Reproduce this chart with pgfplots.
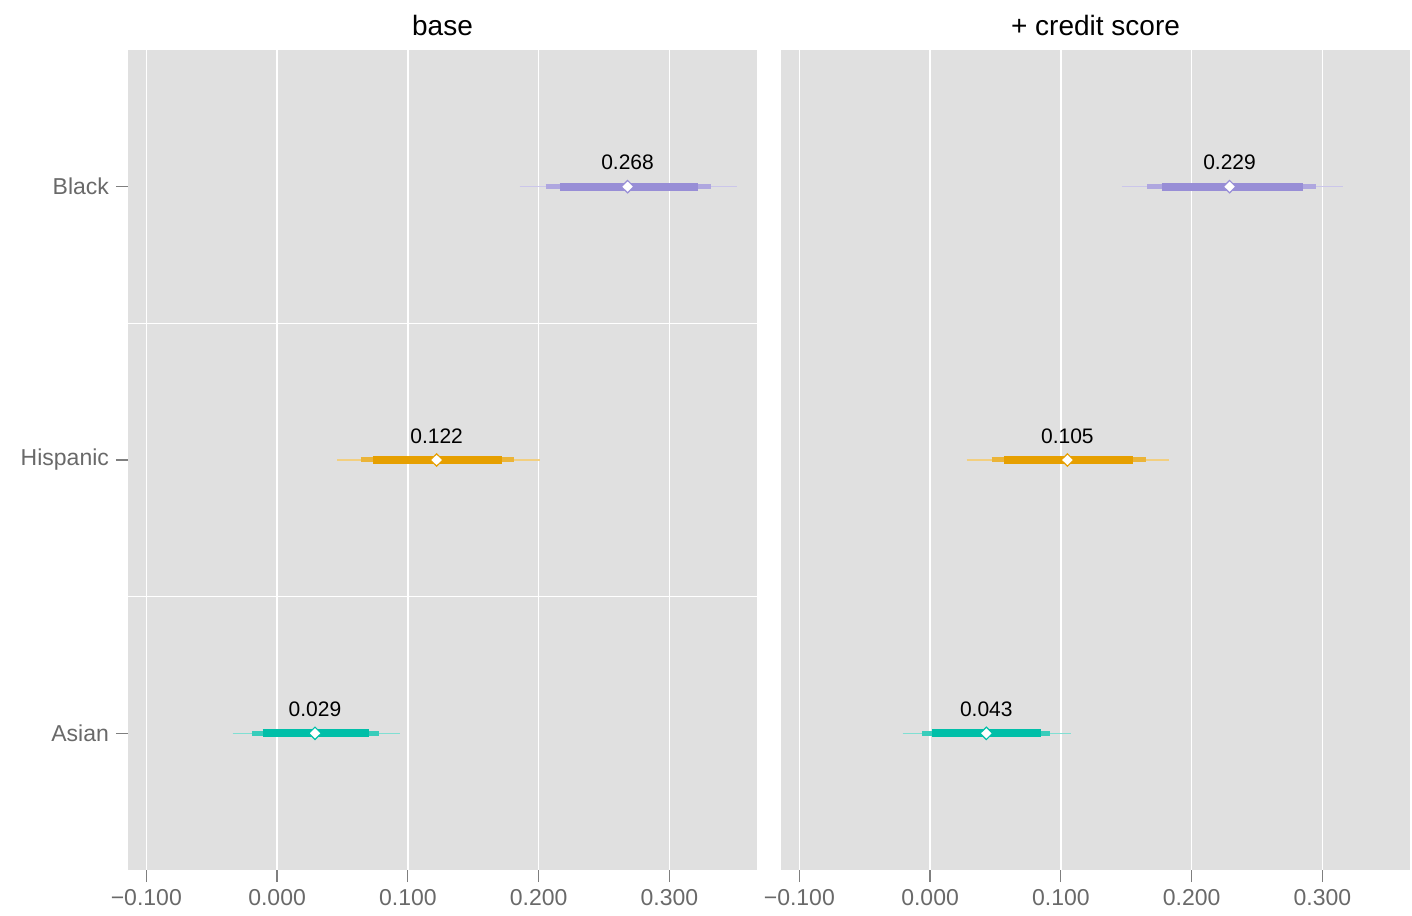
\documentclass[border=0pt]{standalone}
\usepackage{fontspec}
\setmainfont{Liberation Sans}
\usepackage{pgfplots}
\pgfplotsset{compat=1.18}
\definecolor{panelgray}{RGB}{224,224,224}
\definecolor{tickgray}{RGB}{127,127,127}
\definecolor{labelgray}{RGB}{105,105,105}
\definecolor{cpur}{RGB}{152,142,214}
\definecolor{corg}{RGB}{230,159,0}
\definecolor{cteal}{RGB}{0,191,168}
\pgfplotsset{
  panel/.style={
    scale only axis, width=314.5pt, height=410pt,
    xmin=-0.114, xmax=0.367, ymin=0.5, ymax=3.5,
    axis background/.style={fill=panelgray},
    axis line style={draw=none},
    xtick={-0.1,0,0.1,0.2,0.3},
    xticklabels={−0.100,0.000,0.100,0.200,0.300},
    xmajorgrids,
    minor ytick={1.5,2.5}, yminorgrids,
    major grid style={white, line width=0.8pt},
    minor grid style={white, line width=0.8pt},
    tick align=outside, major tick length=6pt, minor tick length=0pt,
    tick style={draw=tickgray, line width=0.6pt},
    tick pos=left,
    ticklabel style={font=\fontsize{11.5}{13}\selectfont, text=labelgray},
    title style={font=\fontsize{14}{16}\selectfont, at={(0.5,1)}, anchor=center, yshift=6.5pt, inner sep=0pt},
  },
  thinl/.style={line width=0.8pt, color=#1!50!white, forget plot},
  midl/.style={line width=2.5pt, color=#1!78!white, forget plot},
  thickl/.style={line width=4pt, color=#1, forget plot},
  est/.style={only marks, mark=diamond*, mark size=3.1pt,
    mark options={fill=white, draw=#1, line width=0.6pt, xscale=1.35},
    nodes near coords, point meta=explicit symbolic,
    every node near coord/.style={anchor=center, yshift=12pt, font=\fontsize{10.5}{12}\selectfont, text=black}},
}
\begin{document}
\begin{tikzpicture}
\begin{axis}[panel, title={base},
  ytick={1,2,3}, yticklabels={Asian,Hispanic,Black}]
  % Black
  \addplot[thinl=cpur] coordinates {(0.1855,3) (0.352,3)};
  \addplot[midl=cpur] coordinates {(0.2053,3) (0.332,3)};
  \addplot[thickl=cpur] coordinates {(0.216,3) (0.322,3)};
  \addplot[est=cpur] coordinates {(0.268,3) [0.268]};
  % Hispanic
  \addplot[thinl=corg] coordinates {(0.046,2) (0.2008,2)};
  \addplot[midl=corg] coordinates {(0.064,2) (0.181,2)};
  \addplot[thickl=corg] coordinates {(0.073,2) (0.172,2)};
  \addplot[est=corg] coordinates {(0.122,2) [0.122]};
  % Asian
  \addplot[thinl=cteal] coordinates {(-0.034,1) (0.094,1)};
  \addplot[midl=cteal] coordinates {(-0.019,1) (0.078,1)};
  \addplot[thickl=cteal] coordinates {(-0.011,1) (0.070,1)};
  \addplot[est=cteal] coordinates {(0.029,1) [0.029]};
\end{axis}
\begin{axis}[panel, at={(326.5pt,0pt)}, title={+ credit score},
  ytick=\empty]
  % Black
  \addplot[thinl=cpur] coordinates {(0.1466,3) (0.316,3)};
  \addplot[midl=cpur] coordinates {(0.166,3) (0.295,3)};
  \addplot[thickl=cpur] coordinates {(0.177,3) (0.285,3)};
  \addplot[est=cpur] coordinates {(0.229,3) [0.229]};
  % Hispanic
  \addplot[thinl=corg] coordinates {(0.028,2) (0.183,2)};
  \addplot[midl=corg] coordinates {(0.047,2) (0.165,2)};
  \addplot[thickl=corg] coordinates {(0.0565,2) (0.155,2)};
  \addplot[est=corg] coordinates {(0.105,2) [0.105]};
  % Asian
  \addplot[thinl=cteal] coordinates {(-0.021,1) (0.108,1)};
  \addplot[midl=cteal] coordinates {(-0.006,1) (0.092,1)};
  \addplot[thickl=cteal] coordinates {(0.0015,1) (0.085,1)};
  \addplot[est=cteal] coordinates {(0.043,1) [0.043]};
\end{axis}
\pgfresetboundingbox
\path[use as bounding box] (-64pt,-22.5pt) rectangle (642pt,435pt);
\end{tikzpicture}
\end{document}
